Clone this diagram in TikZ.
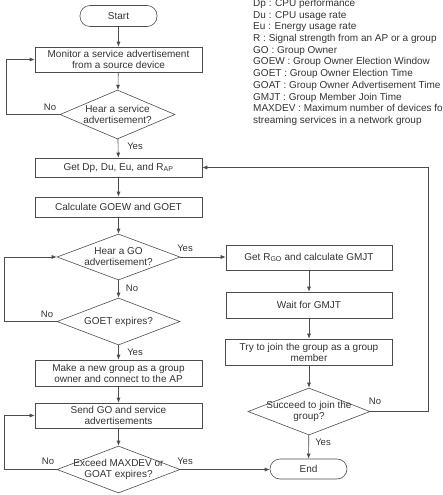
\documentclass[tikz,border=0pt]{standalone}
\usepackage{fontspec}
\setmainfont{Liberation Sans}
\usetikzlibrary{arrows.meta,shapes.geometric}

\tikzset{
  box/.style={draw=black!70, line width=0.6pt, text=black!80, align=center,
    minimum width=167pt, inner sep=2pt, font=\fontsize{10}{11}\selectfont},
  term/.style={box, rounded corners=10pt, minimum width=77pt, minimum height=21pt},
  decide/.style={diamond, draw=black!70, line width=0.6pt, inner sep=0pt,
    minimum width=123pt, minimum height=47pt},
  dtext/.style={text=black!80, align=center, inner sep=0pt, font=\fontsize{10}{11}\selectfont},
  flow/.style={draw=black!70, line width=0.6pt, -{Latex[length=5pt,width=4pt]}},
  tag/.style={text=black!80, inner sep=0pt, font=\fontsize{9.5}{11}\selectfont}
}

\begin{document}
\begin{tikzpicture}[x=1pt,y=-1pt]
      \useasboundingbox (0,0) rectangle (442,495);
      \clip (0,0) rectangle (442,495);
      % legend
      \node[anchor=north west, align=left, inner sep=0pt, text=black!80,
        font=\fontsize{10}{11.7}\selectfont] (legend) at (253,-1)
        {Dp : CPU performance\\
         Du : CPU usage rate\\
         Eu : Energy usage rate\\
         R : Signal strength from an AP or a group\\
         GO : Group Owner\\
         GOEW : Group Owner Election Window\\
         GOET : Group Owner Election Time\\
         GOAT : Group Owner Advertisement Time\\
         GMJT : Group Member Join Time\\
         MAXDEV : Maximum number of devices for\\
         streaming services in a network group};
      % main column
      \node[term] (start) at (118.5,16) {Start};
      \node[box, minimum height=25pt] (monitor) at (118.5,59.5)
        {Monitor a service advertisement\\from a source device};
      \node[decide, minimum width=115pt, minimum height=49pt,
        label={[dtext]center:{Hear a service\\advertisement?}}] (hearsa) at (117.5,114.5) {};
      \node[box, minimum height=19pt] (getd) at (118.5,167.5) {Get Dp, Du, Eu, and R\textsubscript{AP}};
      \node[box, minimum height=20pt] (calc) at (118.5,207) {Calculate GOEW and GOET};
      \node[decide, minimum height=46pt,
        label={[dtext]center:{Hear a GO\\advertisement?}}] (hearGO) at (118.5,257) {};
      \node[decide, label={[dtext]center:{GOET expires?}}] (goet) at (118.5,321.5) {};
      \node[box, minimum height=26pt] (make) at (118.5,373)
        {Make a new group as a group\\owner and connect to the AP};
      \node[box, minimum height=25pt] (send) at (118.5,415.5)
        {Send GO and service\\advertisements};
      \node[decide, label={[dtext]center:{Exceed MAXDEV or\\GOAT expires?}}] (exceed) at (118.5,469.5) {};
      % right column
      \node[box, minimum width=166pt, minimum height=25pt] (getr) at (309,257.5)
        {Get R\textsubscript{GO} and calculate GMJT};
      \node[box, minimum width=166pt, minimum height=26pt] (wait) at (309,305) {Wait for GMJT};
      \node[box, minimum height=26pt] (try) at (309,352)
        {Try to join the group as a group\\member};
      \node[decide, minimum width=122pt,
        label={[dtext]center:{Succeed to join the\\group?}}] (succeed) at (309,411.5) {};
      \node[term, minimum height=20pt] (end) at (308.5,469) {End};
      % connectors
      \draw[flow] (start) -- (monitor);
      \draw[flow] (monitor) -- (hearsa);
      \draw[flow] (hearsa.west) -- ++(-53,0) |- (monitor.west);
      \draw[flow] (hearsa) -- (getd);
      \draw[flow] (getd) -- (calc);
      \draw[flow] (calc) -- (hearGO);
      \draw[flow] (hearGO.east) -- (getr.west |- hearGO.east);
      \draw[flow] (hearGO) -- (goet);
      \draw[flow] (goet.west) -- ++(-52,0) |- (hearGO.west);
      \draw[flow] (goet) -- (make);
      \draw[flow] (make) -- (send);
      \draw[flow] (send) -- (exceed);
      \draw[flow] (exceed.west) -- ++(-52,0) |- (send.west);
      \draw[flow] (exceed.east) -- (end.west |- exceed.east);
      \draw[flow] (getr) -- (wait);
      \draw[flow] (wait) -- (try);
      \draw[flow] (try) -- (succeed);
      \draw[flow] (succeed) -- (end);
      \draw[flow] (succeed.east) -- ++(58,0) |- (getd.east);
      % branch labels
      \node[tag] (no1) at (50,107) {No};
      \node[tag] (yes1) at (135,146) {Yes};
      \node[tag] (yes2) at (185,248) {Yes};
      \node[tag] (no2) at (132,288) {No};
      \node[tag] (no3) at (47,314) {No};
      \node[tag] (yes3) at (135,352) {Yes};
      \node[tag] (no4) at (48,461) {No};
      \node[tag] (yes4) at (185,461) {Yes};
      \node[tag] (no5) at (375,401) {No};
      \node[tag] (yes5) at (323,442) {Yes};
\end{tikzpicture}
\end{document}
